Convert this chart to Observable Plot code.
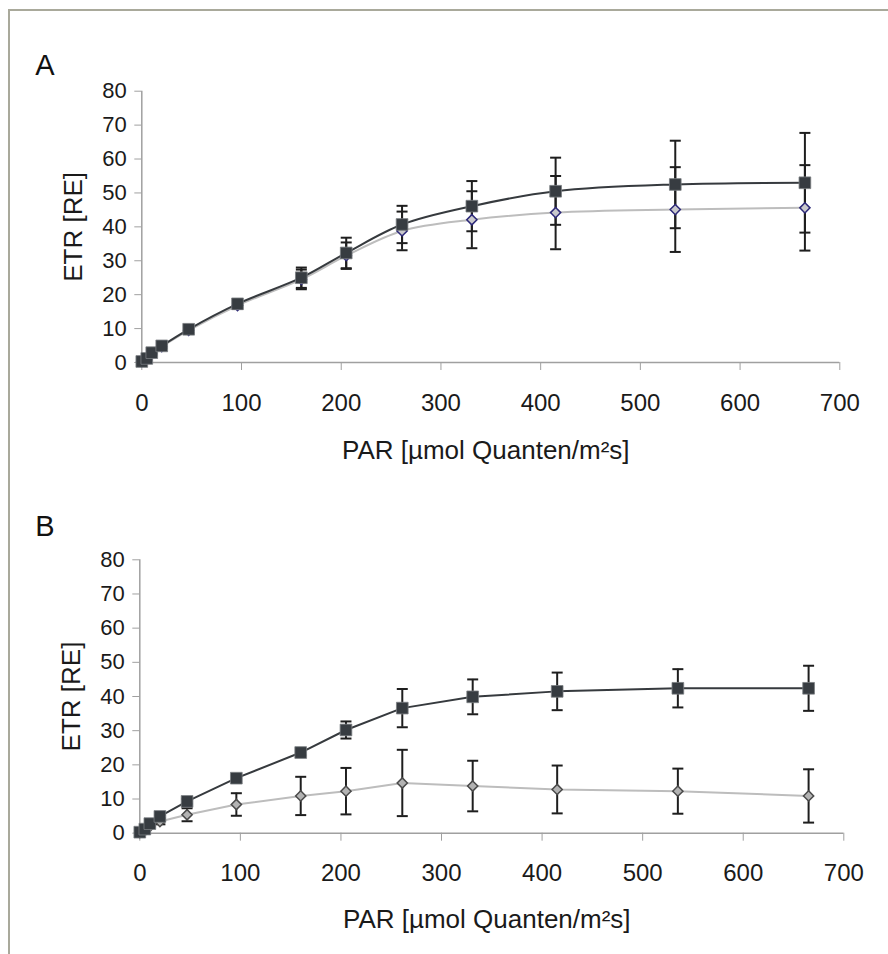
<!DOCTYPE html>
<html><head><meta charset="utf-8">
<script src="https://cdn.jsdelivr.net/npm/d3@7"></script>
<script src="https://cdn.jsdelivr.net/npm/@observablehq/plot@0.6"></script>
<style>
body{margin:0;background:#fff;}
#wrap{position:relative;width:888px;height:954px;overflow:hidden;background:#fff;}
#frame{position:absolute;left:8px;top:9px;width:1000px;height:1000px;border-left:2px solid #a9a99b;border-top:2px solid #a9a99b;}
.panel{position:absolute;left:0;}
</style></head><body>
<div id="wrap"><div id="frame"></div><div id="pa" class="panel" style="top:0"></div><div id="pb" class="panel" style="top:480px"></div></div>
<script>
// PAR values (x)
const par = [0, 5, 10, 20, 47, 96, 160, 205, 261, 331, 415, 535, 665];
const xTicks = [0, 100, 200, 300, 400, 500, 600, 700];
const yTicks = [0, 10, 20, 30, 40, 50, 60, 70, 80];
const xLabel = "PAR [µmol Quanten/m²s]";
const yLabel = "ETR [RE]";

// Panel A
const aSquare    = [0.3, 1.2, 2.9, 4.9, 9.8, 17.3, 25.0, 32.3, 40.7, 46.1, 50.5, 52.5, 53.0];
const aSquareErr = [0.2, 0.3, 0.5, 0.6, 0.9, 1.2, 3.0, 4.5, 5.5, 7.4, 9.9, 12.9, 14.7];
const aDiamond    = [0.3, 1.1, 2.7, 4.7, 9.5, 16.8, 24.5, 31.5, 38.8, 42.1, 44.2, 45.1, 45.6];
const aDiamondErr = [0.2, 0.3, 0.4, 0.5, 0.8, 1.0, 2.9, 3.9, 5.7, 8.4, 10.8, 12.5, 12.6];

// Panel B
const bSquare    = [0.3, 1.2, 2.8, 4.9, 9.3, 16.1, 23.6, 30.2, 36.6, 39.9, 41.5, 42.4, 42.4];
const bSquareErr = [0.1, 0.2, 0.3, 0.4, 0.7, 0.8, 0.8, 2.5, 5.6, 5.1, 5.5, 5.6, 6.6];
const bDiamond    = [0.2, 0.8, 2.0, 3.4, 5.4, 8.4, 10.9, 12.3, 14.7, 13.8, 12.8, 12.3, 10.9];
const bDiamondErr = [0.1, 0.2, 0.4, 0.8, 1.9, 3.3, 5.6, 6.8, 9.7, 7.4, 7.0, 6.6, 7.8];

const capSym = {draw(ctx, size){ const r = Math.sqrt(size / Math.PI); ctx.moveTo(-r, 0); ctx.lineTo(r, 0); }};
const FONT = "'Liberation Sans', Arial, sans-serif";

function panel(o) {
  const rows = par.map((x, i) => ({x, sq: o.sq[i], sqE: o.sqE[i], di: o.di[i], diE: o.diE[i]}));
  const errMarks = (key, ekey) => [
    Plot.ruleX(rows, {x: "x", y1: d => d[key] - d[ekey], y2: d => d[key] + d[ekey], stroke: "#1e1e1e", strokeWidth: 2}),
    Plot.dot(rows, {x: "x", y: d => d[key] + d[ekey], symbol: capSym, r: 5.5, fill: "none", stroke: "#1e1e1e", strokeWidth: 2}),
    Plot.dot(rows, {x: "x", y: d => d[key] - d[ekey], symbol: capSym, r: 5.5, fill: "none", stroke: "#1e1e1e", strokeWidth: 2})
  ];
  return Plot.plot({
    width: 888,
    height: o.height,
    marginTop: o.marginTop,
    marginBottom: o.marginBottom,
    marginLeft: o.marginLeft,
    marginRight: o.marginRight,
    style: {fontFamily: FONT, color: "#222", background: "transparent", overflow: "visible"},
    x: {domain: [0, 700]},
    y: {domain: [0, 80]},
    marks: [
      Plot.ruleX([0], {y1: 0, y2: 80, stroke: "#a0a0a0", strokeWidth: 1.5}),
      Plot.ruleY([0], {x1: 0, x2: 700, stroke: "#a0a0a0", strokeWidth: 1.5}),
      Plot.axisY({ticks: yTicks, tickSize: 7, tickPadding: 8, fontSize: 22, stroke: "#a0a0a0", fill: "#1a1a1a", label: null}),
      Plot.axisX({ticks: xTicks, tickSize: 8, tickPadding: 23, fontSize: 24, stroke: "#a0a0a0", fill: "#1a1a1a", label: null}),
      Plot.text([yLabel], {frameAnchor: "left", dx: -68, rotate: -90, textAnchor: "middle", lineAnchor: "middle", fontSize: 26, fill: "#1a1a1a"}),
      Plot.text([xLabel], {frameAnchor: "bottom", dx: -5, dy: o.xLabelDy, textAnchor: "middle", lineAnchor: "middle", fontSize: 26, fill: "#1a1a1a"}),
      Plot.text([o.letter], {frameAnchor: "top-left", dx: o.letterDx, dy: o.letterDy, textAnchor: "middle", lineAnchor: "middle", fontSize: 29, fill: "#111"}),
      Plot.line(rows, {x: "x", y: "di", curve: o.curve, stroke: "#bdbdbd", strokeWidth: 2}),
      Plot.line(rows, {x: "x", y: "sq", curve: o.curve, stroke: "#363a3e", strokeWidth: 2}),
      ...errMarks("di", "diE"),
      ...errMarks("sq", "sqE"),
      Plot.dot(rows, {x: "x", y: "di", symbol: "diamond2", r: 4.6, fill: o.diFill, stroke: o.diStroke, strokeWidth: 1.5}),
      Plot.dot(rows, {x: "x", y: "sq", symbol: "square", r: 6.6, fill: "#373c41", stroke: "#7a7e82", strokeWidth: 0.8})
    ]
  });
}

document.getElementById("pa").append(panel({
  letter: "A", sq: aSquare, sqE: aSquareErr, di: aDiamond, diE: aDiamondErr,
  curve: "catmull-rom", diFill: "#c9c9cc", diStroke: "#2c2878",
  height: 480, marginTop: 90.7, marginBottom: 118, marginLeft: 141.3, marginRight: 48.7,
  xLabelDy: 88, letterDx: -97, letterDy: -25
}));
document.getElementById("pb").append(panel({
  letter: "B", sq: bSquare, sqE: bSquareErr, di: bDiamond, diE: bDiamondErr,
  curve: "linear", diFill: "#b3b3b3", diStroke: "#4a4a4a",
  height: 474, marginTop: 79.3, marginBottom: 121.3, marginLeft: 139.3, marginRight: 44.7,
  xLabelDy: 86, letterDx: -95, letterDy: -33
}));
</script>
</body></html>
